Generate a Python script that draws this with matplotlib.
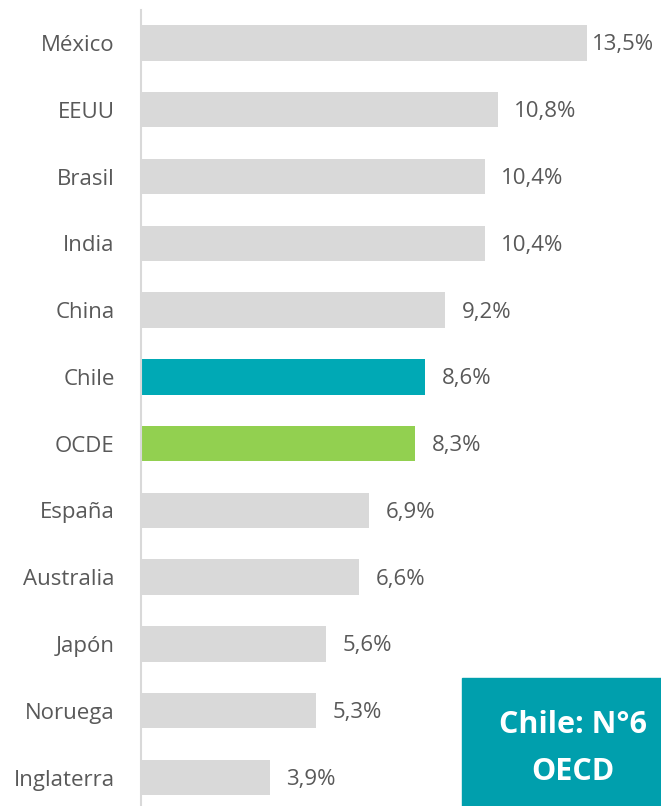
import matplotlib.pyplot as plt
from matplotlib.patches import Rectangle

plt.rcParams['font.family'] = ['Open Sans', 'DejaVu Sans']

countries = ["México", "EEUU", "Brasil", "India", "China", "Chile", "OCDE",
             "España", "Australia", "Japón", "Noruega", "Inglaterra"]
values = [13.5, 10.8, 10.4, 10.4, 9.2, 8.6, 8.3, 6.9, 6.6, 5.6, 5.3, 3.9]
labels = ["13,5%", "10,8%", "10,4%", "10,4%", "9,2%", "8,6%", "8,3%",
          "6,9%", "6,6%", "5,6%", "5,3%", "3,9%"]

gray = "#D9D9D9"
colors = [gray] * len(countries)
colors[countries.index("Chile")] = "#00A9B5"
colors[countries.index("OCDE")] = "#92D050"
txt = "#595959"

fig = plt.figure(figsize=(6.61, 8.06), dpi=100)
ax = fig.add_axes([141 / 661, 0, 1 - 141 / 661, 1 - 10 / 806])

ypos = list(range(len(countries)))
ax.barh(ypos, values, height=0.53, color=colors)
ax.set_xlim(0, (661 - 141) / 33.03)
ax.set_ylim(11 + 28.5 / 66.8, -33 / 66.8)

ax.set_yticks(ypos)
ax.set_yticklabels(countries, fontsize=16, color=txt)
ax.tick_params(axis='y', length=0, pad=19)
ax.set_xticks([])
for s in ["top", "right", "bottom"]:
    ax.spines[s].set_visible(False)
ax.spines["left"].set_color("#D9D9D9")
ax.spines["left"].set_linewidth(1.5)

xmax = ax.get_xlim()[1]
for y, v, lab in zip(ypos, values, labels):
    x = min(v + 0.5, xmax - 2.09)
    ax.text(x, y + 0.03, lab, va="center", ha="left", fontsize=16, color=txt)

fig.patches.append(Rectangle((462 / 661, 0), 1 - 462 / 661, 128 / 806,
                             transform=fig.transFigure, color="#009FAD", zorder=5))
fig.text(573 / 661, 1 - 725 / 806, "Chile: N°6", ha="center", va="center",
         fontsize=22, fontweight="bold", color="white", zorder=6)
fig.text(573 / 661, 1 - 772 / 806, "OECD", ha="center", va="center",
         fontsize=22, fontweight="bold", color="white", zorder=6)

fig.savefig("out.png", dpi=100)
